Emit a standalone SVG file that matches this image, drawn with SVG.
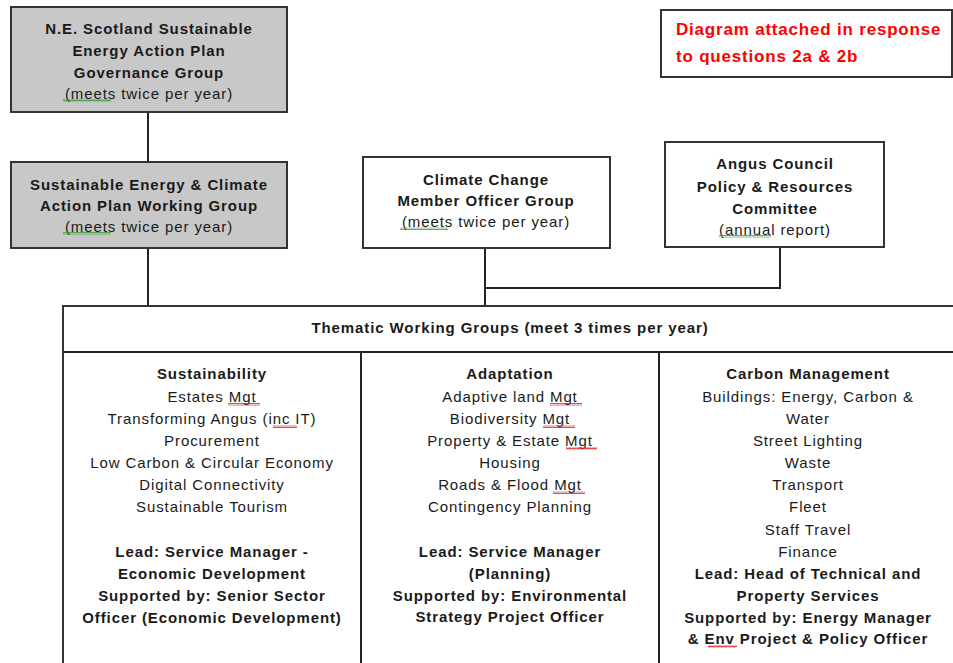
<svg xmlns="http://www.w3.org/2000/svg" width="953" height="663" viewBox="0 0 953 663">
<defs>
<style>
.box{fill:#fff;stroke:#333;stroke-width:2}
.grey{fill:#c8c8c8}
.t{font-family:"Liberation Sans",Arial,sans-serif;font-size:15px;letter-spacing:0.9px;fill:#1a1a1a;text-anchor:middle;dominant-baseline:central}
.b{font-weight:bold}
.red{font-family:"Liberation Sans",Arial,sans-serif;font-size:17px;font-weight:bold;letter-spacing:0.8px;fill:#ff0000;dominant-baseline:central}
.ln{stroke:#222;stroke-width:2;fill:none}
.sqg{fill:url(#zzg)}
.sqr{fill:url(#zzr)}
</style>
<pattern id="zzg" width="4" height="3" patternUnits="userSpaceOnUse"><path d="M0,2.5 L1,0.5 L2,2.5 L3,0.5 L4,2.5" stroke="#3a9a3a" stroke-width="0.8" fill="none"/></pattern>
<pattern id="zzr" width="4" height="3" patternUnits="userSpaceOnUse"><path d="M0,2.5 L1,0.5 L2,2.5 L3,0.5 L4,2.5" stroke="#e02020" stroke-width="0.8" fill="none"/></pattern>
</defs>
<g id="connectors">
<line class="ln" x1="148" y1="112" x2="148" y2="162"/>
<line class="ln" x1="148" y1="248" x2="148" y2="306"/>
<line class="ln" x1="485" y1="248" x2="485" y2="306"/>
<polyline class="ln" points="485,288 780,288 780,247"/>
</g>
<g id="note">
<rect class="box" x="661" y="10" width="291" height="67"/>
<text class="red" x="676" y="29">Diagram attached in response</text>
<text class="red" x="676" y="56">to questions 2a &amp; 2b</text>
</g>
<g id="governance">
<rect class="box grey" x="11" y="7" width="276" height="105"/>
<text class="t b" x="149" y="28">N.E. Scotland Sustainable</text>
<text class="t b" x="149" y="50">Energy Action Plan</text>
<text class="t b" x="149" y="72">Governance Group</text>
<text class="t" x="149" y="93">(meets twice per year)</text>
<rect class="sqg" x="63" y="99" width="48" height="3"/>
</g>
<g id="working-group">
<rect class="box grey" x="11" y="162" width="276" height="86"/>
<text class="t b" x="149" y="184">Sustainable Energy &amp; Climate</text>
<text class="t b" x="149" y="205">Action Plan Working Group</text>
<text class="t" x="149" y="226">(meets twice per year)</text>
<rect class="sqg" x="63" y="232" width="48" height="3"/>
</g>
<g id="climate-change">
<rect class="box" x="363" y="157" width="247" height="91"/>
<text class="t b" x="486" y="179">Climate Change</text>
<text class="t b" x="486" y="200">Member Officer Group</text>
<text class="t" x="486" y="221">(meets twice per year)</text>
<rect class="sqg" x="400" y="227" width="48" height="3"/>
</g>
<g id="angus-council">
<rect class="box" x="665" y="142" width="219" height="105"/>
<text class="t b" x="775" y="163">Angus Council</text>
<text class="t b" x="775" y="186">Policy &amp; Resources</text>
<text class="t b" x="775" y="208">Committee</text>
<text class="t" x="775" y="229">(annual report)</text>
<rect class="sqg" x="719" y="235" width="52" height="3"/>
</g>
<g id="thematic">
<rect class="box" x="63" y="306" width="900" height="370"/>
<line class="ln" x1="63" y1="352" x2="953" y2="352"/>
<line class="ln" x1="361" y1="352" x2="361" y2="663"/>
<line class="ln" x1="659" y1="352" x2="659" y2="663" stroke-width="3"/>
<text class="t b" x="510" y="327">Thematic Working Groups (meet 3 times per year)</text>
</g>
<g id="sustainability">
<text class="t b" x="212" y="373">Sustainability</text>
<text class="t" x="212" y="396">Estates Mgt</text>
<text class="t" x="212" y="418">Transforming Angus (inc IT)</text>
<text class="t" x="212" y="440">Procurement</text>
<text class="t" x="212" y="462">Low Carbon &amp; Circular Economy</text>
<text class="t" x="212" y="484">Digital Connectivity</text>
<text class="t" x="212" y="506">Sustainable Tourism</text>
<text class="t b" x="212" y="551">Lead: Service Manager -</text>
<text class="t b" x="212" y="573">Economic Development</text>
<text class="t b" x="212" y="595">Supported by: Senior Sector</text>
<text class="t b" x="212" y="617">Officer (Economic Development)</text>
<rect class="sqr" x="228" y="403" width="32" height="3"/>
<rect class="sqr" x="273" y="425" width="24" height="3"/>
</g>
<g id="adaptation">
<text class="t b" x="510" y="373">Adaptation</text>
<text class="t" x="510" y="396">Adaptive land Mgt</text>
<text class="t" x="510" y="418">Biodiversity Mgt</text>
<text class="t" x="510" y="440">Property &amp; Estate Mgt</text>
<text class="t" x="510" y="462">Housing</text>
<text class="t" x="510" y="484">Roads &amp; Flood Mgt</text>
<text class="t" x="510" y="506">Contingency Planning</text>
<text class="t b" x="510" y="551">Lead: Service Manager</text>
<text class="t b" x="510" y="573">(Planning)</text>
<text class="t b" x="510" y="595">Supported by: Environmental</text>
<text class="t b" x="510" y="616">Strategy Project Officer</text>
<rect class="sqr" x="550" y="403" width="32" height="3"/>
<rect class="sqr" x="543" y="425" width="32" height="3"/>
<rect class="sqr" x="566" y="447" width="31" height="3"/>
<rect class="sqr" x="553" y="491" width="32" height="3"/>
</g>
<g id="carbon-management">
<text class="t b" x="808" y="373">Carbon Management</text>
<text class="t" x="808" y="396">Buildings: Energy, Carbon &amp;</text>
<text class="t" x="808" y="418">Water</text>
<text class="t" x="808" y="440">Street Lighting</text>
<text class="t" x="808" y="462">Waste</text>
<text class="t" x="808" y="484">Transport</text>
<text class="t" x="808" y="506">Fleet</text>
<text class="t" x="808" y="529">Staff Travel</text>
<text class="t" x="808" y="551">Finance</text>
<text class="t b" x="808" y="573">Lead: Head of Technical and</text>
<text class="t b" x="808" y="595">Property Services</text>
<text class="t b" x="808" y="617">Supported by: Energy Manager</text>
<text class="t b" x="808" y="638">&amp; Env Project &amp; Policy Officer</text>
<rect class="sqr" x="708" y="645" width="29" height="3"/>
</g>
</svg>
